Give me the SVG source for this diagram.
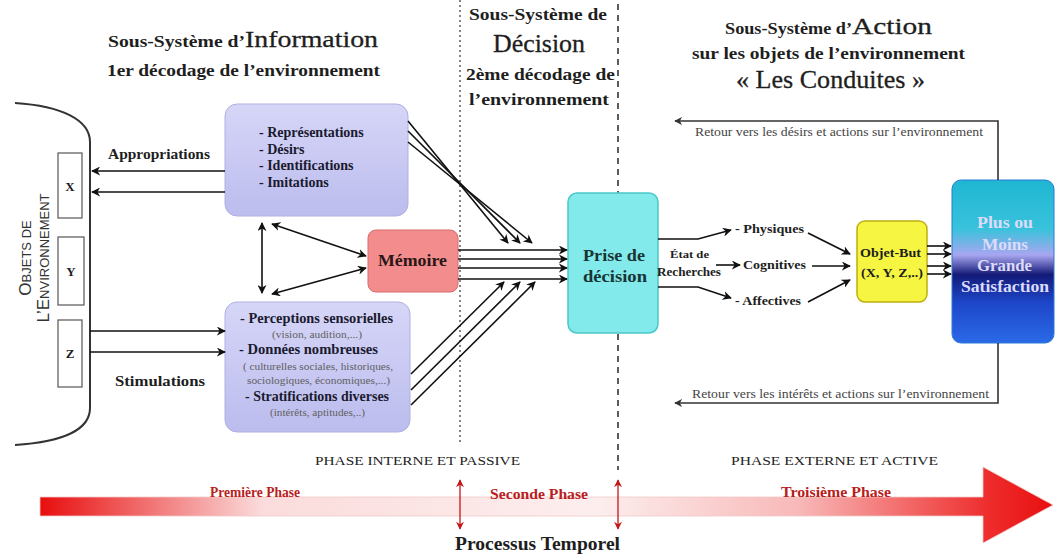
<svg xmlns="http://www.w3.org/2000/svg" width="1056" height="556" viewBox="0 0 1056 556">
  <defs>
    <marker id="ah" viewBox="0 0 10 10" refX="9" refY="5" markerWidth="9" markerHeight="9" markerUnits="userSpaceOnUse" orient="auto-start-reverse">
      <path d="M0,0 L10,5 L0,10 L3,5 z" fill="#111"/>
    </marker>
    <marker id="ahs" viewBox="0 0 10 10" refX="9" refY="5" markerWidth="8" markerHeight="8" markerUnits="userSpaceOnUse" orient="auto-start-reverse">
      <path d="M0,0 L10,5 L0,10 L3,5 z" fill="#333"/>
    </marker>
    <marker id="ahr" viewBox="0 0 10 10" refX="9" refY="5" markerWidth="8" markerHeight="8" markerUnits="userSpaceOnUse" orient="auto-start-reverse">
      <path d="M0,0 L10,5 L0,10 L3,5 z" fill="#c01818"/>
    </marker>
    <linearGradient id="lav" x1="0" y1="0" x2="0" y2="1">
      <stop offset="0" stop-color="#d6d6f8"/>
      <stop offset="1" stop-color="#bcbcee"/>
    </linearGradient>
    <linearGradient id="sat" x1="0" y1="0" x2="0" y2="1">
      <stop offset="0" stop-color="#1fb6d2"/>
      <stop offset="0.3" stop-color="#39c2dc"/>
      <stop offset="0.46" stop-color="#a8a6f0"/>
      <stop offset="0.58" stop-color="#141a78"/>
      <stop offset="0.75" stop-color="#1d46c8"/>
      <stop offset="1" stop-color="#2a6ae8"/>
    </linearGradient>
    <linearGradient id="time" x1="40" y1="0" x2="1053" y2="0" gradientUnits="userSpaceOnUse">
      <stop offset="0" stop-color="#e80e0e"/>
      <stop offset="0.22" stop-color="#fbdcdc"/>
      <stop offset="0.55" stop-color="#fdeeee"/>
      <stop offset="0.75" stop-color="#f8b8b8"/>
      <stop offset="0.94" stop-color="#ee2a2a"/>
      <stop offset="1" stop-color="#e81010"/>
    </linearGradient>
    <style>
      text { font-family: "Liberation Serif", "DejaVu Serif", serif; fill: #1e1e1e; }
      .b { font-weight: bold; }
      .h { font-size: 17.5px; font-weight: bold; }
      .big { font-size: 24px; font-weight: normal; stroke: #1e1e1e; stroke-width: 0.3px; }
      .item { font-size: 14px; font-weight: bold; fill: #1a1a2e; }
      .sub { font-size: 11px; fill: #606060; }
      .ret { font-size: 12.5px; fill: #444; }
      .phase { font-size: 13px; fill: #222; }
      .red { font-size: 14px; font-weight: bold; fill: #b82020; }
      .ln { stroke: #111; stroke-width: 1.6; fill: none; }
      .fb { stroke: #333; stroke-width: 1.6; fill: none; }
      .env { font-family: "Liberation Sans", Arial, sans-serif; fill: #333; }
    </style>
  </defs>

  <rect width="1056" height="556" fill="#ffffff"/>

  <!-- phase separators -->
  <g id="separators">
    <line x1="460" y1="0" x2="460" y2="442" stroke="#333" stroke-width="1.2" stroke-dasharray="2,3"/>
    <line x1="618" y1="4" x2="618" y2="470" stroke="#333" stroke-width="1.6" stroke-dasharray="6,5"/>
  </g>

  <!-- headings -->
  <g id="headings">
    <text x="108" y="47" class="h" textLength="137" lengthAdjust="spacingAndGlyphs">Sous-Système d’</text>
    <text x="245" y="47" class="big" textLength="133" lengthAdjust="spacingAndGlyphs">Information</text>
    <text x="107" y="76" class="h" textLength="273" lengthAdjust="spacingAndGlyphs">1er décodage de l’environnement</text>

    <text x="469" y="20" class="h" textLength="138" lengthAdjust="spacingAndGlyphs">Sous-Système de</text>
    <text x="493" y="52" class="big" style="font-size:25px" textLength="92" lengthAdjust="spacingAndGlyphs">Décision</text>
    <text x="466" y="80" class="h" textLength="149" lengthAdjust="spacingAndGlyphs">2ème décodage de</text>
    <text x="469" y="105" class="h" textLength="140" lengthAdjust="spacingAndGlyphs">l’environnement</text>

    <text x="725" y="34" class="h" textLength="127" lengthAdjust="spacingAndGlyphs">Sous-Système d’</text>
    <text x="852" y="34" class="big" textLength="80" lengthAdjust="spacingAndGlyphs">Action</text>
    <text x="692" y="59" class="h" textLength="273" lengthAdjust="spacingAndGlyphs">sur les objets de l’environnement</text>
    <text x="736" y="88" class="big" style="font-size:25px" textLength="189" lengthAdjust="spacingAndGlyphs">« Les Conduites »</text>
  </g>

  <!-- environment objects -->
  <g id="environment">
    <path d="M15,103 C62,106 90,120 90,142 L90,408 C90,430 62,442 15,445" fill="none" stroke="#333" stroke-width="2"/>
    <text class="env" transform="translate(31,258) rotate(-90)" text-anchor="middle"><tspan font-size="17">O</tspan><tspan font-size="13">BJETS DE</tspan></text>
    <text class="env" transform="translate(49,258) rotate(-90)" text-anchor="middle"><tspan font-size="17">L’E</tspan><tspan font-size="13">NVIRONNEMENT</tspan></text>
  </g>
  <g id="obj-x">
    <rect x="58" y="153" width="24" height="65" fill="#fff" stroke="#555" stroke-width="1.2"/>
    <text x="70" y="191" text-anchor="middle" class="b" font-size="13">X</text>
  </g>
  <g id="obj-y">
    <rect x="58" y="237" width="26" height="68" fill="#fff" stroke="#555" stroke-width="1.2"/>
    <text x="71" y="276" text-anchor="middle" class="b" font-size="13">Y</text>
  </g>
  <g id="obj-z">
    <rect x="58" y="320" width="24" height="67" fill="#fff" stroke="#555" stroke-width="1.2"/>
    <text x="70" y="358" text-anchor="middle" class="b" font-size="13">Z</text>
  </g>

  <!-- information subsystem -->
  <g id="info-top">
    <rect x="225" y="104" width="183" height="112" rx="12" fill="url(#lav)" stroke="#b0b0e0" stroke-width="1"/>
    <text x="259" y="137" class="item">- Représentations</text>
    <text x="259" y="154" class="item">- Désirs</text>
    <text x="259" y="170" class="item">- Identifications</text>
    <text x="259" y="187" class="item">- Imitations</text>
  </g>
  <g id="info-bottom">
    <rect x="225" y="302" width="185" height="130" rx="12" fill="url(#lav)" stroke="#b0b0e0" stroke-width="1"/>
    <text x="240" y="323" class="item" textLength="153" lengthAdjust="spacingAndGlyphs">- Perceptions sensorielles</text>
    <text x="272" y="338" class="sub" textLength="90" lengthAdjust="spacingAndGlyphs">(vision, audition,...)</text>
    <text x="239" y="354" class="item" textLength="139" lengthAdjust="spacingAndGlyphs">- Données nombreuses</text>
    <text x="243" y="370" class="sub" textLength="150" lengthAdjust="spacingAndGlyphs">( culturelles sociales, historiques,</text>
    <text x="247" y="384" class="sub" textLength="143" lengthAdjust="spacingAndGlyphs">sociologiques, économiques,...)</text>
    <text x="245" y="401" class="item" textLength="144" lengthAdjust="spacingAndGlyphs">- Stratifications diverses</text>
    <text x="270" y="416" class="sub" textLength="95" lengthAdjust="spacingAndGlyphs">(intérêts, aptitudes,..)</text>
  </g>
  <g id="memoire">
    <rect x="368" y="230" width="90" height="62" rx="8" fill="#f38c8c" stroke="#d86a6a" stroke-width="1"/>
    <text x="378" y="266" class="b" font-size="16" fill="#2a1616" style="fill:#2a1616" textLength="69" lengthAdjust="spacingAndGlyphs">Mémoire</text>
  </g>
  <g id="decision">
    <rect x="568" y="193" width="90" height="140" rx="9" fill="#82eaea" stroke="#4cc8c8" stroke-width="1.5"/>
    <text x="583" y="261" class="b" font-size="17.5" style="fill:#183434" textLength="62" lengthAdjust="spacingAndGlyphs">Prise de</text>
    <text x="583" y="282" class="b" font-size="17.5" style="fill:#183434" textLength="64" lengthAdjust="spacingAndGlyphs">décision</text>
  </g>
  <g id="labels">
    <text x="108" y="159" class="b" font-size="15" textLength="102" lengthAdjust="spacingAndGlyphs">Appropriations</text>
    <text x="115" y="386" class="b" font-size="15" textLength="90" lengthAdjust="spacingAndGlyphs">Stimulations</text>
    <text x="670" y="258" class="b" font-size="11" textLength="39" lengthAdjust="spacingAndGlyphs">État de</text>
    <text x="657" y="276" class="b" font-size="11.5" textLength="64" lengthAdjust="spacingAndGlyphs">Recherches</text>
    <text x="735" y="233" class="b" font-size="13.5" textLength="69" lengthAdjust="spacingAndGlyphs">- Physiques</text>
    <text x="743" y="269" class="b" font-size="13.5" textLength="63" lengthAdjust="spacingAndGlyphs">Cognitives</text>
    <text x="735" y="305" class="b" font-size="13.5" textLength="66" lengthAdjust="spacingAndGlyphs">- Affectives</text>
  </g>
  <g id="objet-but">
    <rect x="857" y="221" width="70" height="81" rx="8" fill="#f6f642" stroke="#bfae10" stroke-width="1.5"/>
    <text x="860" y="257" class="b" font-size="13" textLength="61" lengthAdjust="spacingAndGlyphs">Objet-But</text>
    <text x="861" y="277" class="b" font-size="13" textLength="62" lengthAdjust="spacingAndGlyphs">(X, Y, Z,..)</text>
  </g>
  <g id="satisfaction">
    <rect x="952" y="180" width="102" height="163" rx="9" fill="url(#sat)" stroke="#2a7ad8" stroke-width="1"/>
    <text x="977" y="228" class="b" font-size="16.5" style="fill:#dcdcfa" textLength="56" lengthAdjust="spacingAndGlyphs">Plus ou</text>
    <text x="982" y="250" class="b" font-size="16.5" style="fill:#dcdcfa" textLength="46" lengthAdjust="spacingAndGlyphs">Moins</text>
    <text x="977" y="271" class="b" font-size="16.5" style="fill:#dcdcfa" textLength="55" lengthAdjust="spacingAndGlyphs">Grande</text>
    <text x="961" y="292" class="b" font-size="16.5" style="fill:#dcdcfa" textLength="88" lengthAdjust="spacingAndGlyphs">Satisfaction</text>
  </g>

  <!-- connectors -->
  <g id="connectors">
    <!-- appropriations / stimulations -->
    <line class="ln" x1="225" y1="171" x2="92" y2="171" marker-end="url(#ah)"/>
    <line class="ln" x1="225" y1="192" x2="92" y2="192" marker-end="url(#ah)"/>
    <line class="ln" x1="90" y1="331" x2="225" y2="331" marker-end="url(#ah)"/>
    <line class="ln" x1="90" y1="352" x2="225" y2="352" marker-end="url(#ah)"/>
    <!-- memory links -->
    <line class="ln" x1="262" y1="223" x2="262" y2="293" marker-start="url(#ah)" marker-end="url(#ah)"/>
    <line class="ln" x1="272" y1="224" x2="366" y2="256" marker-start="url(#ah)" marker-end="url(#ah)"/>
    <line class="ln" x1="272" y1="294" x2="366" y2="268" marker-start="url(#ah)" marker-end="url(#ah)"/>
    <!-- information to decision -->
    <line class="ln" x1="408" y1="121" x2="508" y2="243" marker-end="url(#ah)"/>
    <line class="ln" x1="408" y1="131" x2="520" y2="243" marker-end="url(#ah)"/>
    <line class="ln" x1="408" y1="142" x2="532" y2="243" marker-end="url(#ah)"/>
    <line class="ln" x1="411" y1="374" x2="504" y2="282" marker-end="url(#ah)"/>
    <line class="ln" x1="411" y1="390" x2="520" y2="282" marker-end="url(#ah)"/>
    <line class="ln" x1="411" y1="405" x2="535" y2="282" marker-end="url(#ah)"/>
    <line class="ln" x1="458" y1="250" x2="567" y2="250" marker-end="url(#ah)"/>
    <line class="ln" x1="458" y1="259" x2="567" y2="259" marker-end="url(#ah)"/>
    <line class="ln" x1="458" y1="268" x2="567" y2="268" marker-end="url(#ah)"/>
    <line class="ln" x1="458" y1="279" x2="567" y2="279" marker-end="url(#ah)"/>
    <!-- decision to search states -->
    <polyline class="ln" points="658,239 698,239 731,230" marker-end="url(#ah)"/>
    <line class="ln" x1="716" y1="265" x2="740" y2="265" marker-end="url(#ah)"/>
    <polyline class="ln" points="658,287 698,287 731,298" marker-end="url(#ah)"/>
    <!-- search states to goal object -->
    <line class="ln" x1="808" y1="233" x2="850" y2="254" marker-end="url(#ah)"/>
    <line class="ln" x1="812" y1="266" x2="850" y2="266" marker-end="url(#ah)"/>
    <line class="ln" x1="808" y1="302" x2="850" y2="280" marker-end="url(#ah)"/>
    <!-- goal object to satisfaction -->
    <line class="ln" x1="927" y1="246" x2="951" y2="246" marker-end="url(#ah)"/>
    <line class="ln" x1="927" y1="254" x2="951" y2="254" marker-end="url(#ah)"/>
    <line class="ln" x1="927" y1="266" x2="951" y2="266" marker-end="url(#ah)"/>
    <line class="ln" x1="927" y1="274" x2="951" y2="274" marker-end="url(#ah)"/>
    <!-- feedback loops -->
    <polyline class="fb" points="998,180 998,121 675,121" marker-end="url(#ahs)"/>
    <polyline class="fb" points="998,343 998,403 675,403" marker-end="url(#ahs)"/>
  </g>
  <g id="feedback-labels">
    <text x="695" y="136" class="ret" textLength="288" lengthAdjust="spacingAndGlyphs">Retour vers les désirs et actions sur l’environnement</text>
    <text x="692" y="398" class="ret" textLength="297" lengthAdjust="spacingAndGlyphs">Retour vers les intérêts et actions sur l’environnement</text>
  </g>

  <!-- time axis -->
  <g id="timeline">
    <path d="M40,497 L983,497 L983,467 L1053,505 L983,543 L983,516 L40,516 Z" fill="url(#time)" stroke="#f0c8c8" stroke-width="0.8"/>
    <line x1="460" y1="480" x2="460" y2="529" stroke="#c01818" stroke-width="1.3" marker-start="url(#ahr)" marker-end="url(#ahr)"/>
    <line x1="618" y1="480" x2="618" y2="529" stroke="#c01818" stroke-width="1.3" marker-start="url(#ahr)" marker-end="url(#ahr)"/>
    <text x="315" y="465" class="phase" textLength="205" lengthAdjust="spacingAndGlyphs">PHASE INTERNE ET PASSIVE</text>
    <text x="731" y="465" class="phase" textLength="207" lengthAdjust="spacingAndGlyphs">PHASE EXTERNE  ET ACTIVE</text>
    <text x="210" y="497" class="red" textLength="90" lengthAdjust="spacingAndGlyphs">Première Phase</text>
    <text x="490" y="499" class="red" textLength="98" lengthAdjust="spacingAndGlyphs">Seconde Phase</text>
    <text x="781" y="497" class="red" textLength="110" lengthAdjust="spacingAndGlyphs">Troisième Phase</text>
    <text x="455" y="550" class="b" font-size="18" textLength="165" lengthAdjust="spacingAndGlyphs">Processus Temporel</text>
  </g>
</svg>
